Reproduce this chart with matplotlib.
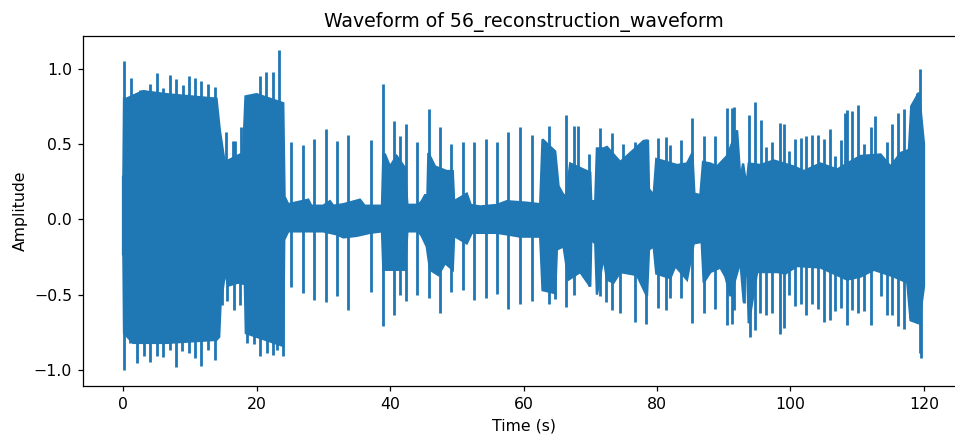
import numpy as np
import matplotlib.pyplot as plt

# the source picture is a default figure scaled up by about 1.13
plt.rcParams.update({
    "font.size": 11.3,
    "axes.titlesize": 13.56,
    "axes.linewidth": 0.9,
    "axes.labelpad": 4.5,
    "axes.titlepad": 6.8,
    "xtick.major.size": 3.95,
    "ytick.major.size": 3.95,
    "xtick.major.width": 0.9,
    "ytick.major.width": 0.9,
    "xtick.major.pad": 3.95,
    "ytick.major.pad": 3.95,
})

# envelope of the dense part of the waveform
upper_t = [0, 0.05, 0.15, 0.5, 3, 6.5, 14, 14.5, 15.25, 15.75, 18, 18.35, 20, 24, 24.2, 24.75,
           27.75, 28.2, 30, 31, 31.5, 33, 35.5, 36.2, 38.8, 39, 39.25, 40, 41, 42.25, 42.6, 44.25,
           44.75, 45.25, 45.6, 45.75, 46.75, 48.5, 49.4, 49.6, 51.5, 52.1, 53.5, 56, 57.5, 60.5,
           62.5, 62.85, 64.75, 65.25, 66, 66.4, 67, 69, 70, 70.15, 70.75, 71, 72, 72.5, 73.5, 74.5,
           78, 78.65, 78.8, 79.5, 79.9, 83, 84.5, 85.3, 85.6, 86.5, 86.9, 88, 89, 90.5, 92, 92.5,
           92.9, 93.4, 93.75, 95.5, 97.5, 100.5, 102, 104.5, 107, 108.5, 110.5, 113.5, 115, 116.5,
           117.75, 118.1, 119.25, 120, 120]
upper_a = [0.28, 0.28, 0.80, 0.80, 0.85, 0.83, 0.80, 0.59, 0.37, 0.39, 0.44, 0.815, 0.83, 0.77, 0.15, 0.10,
           0.13, 0.09, 0.09, 0.12, 0.09, 0.10, 0.13, 0.09, 0.09, 0.43, 0.43, 0.35, 0.42, 0.34, 0.096, 0.096,
           0.12, 0.16, 0.16, 0.44, 0.35, 0.32, 0.32, 0.12, 0.17, 0.095, 0.085, 0.095, 0.12, 0.11,
           0.10, 0.53, 0.45, 0.22, 0.16, 0.16, 0.37, 0.33, 0.31, 0.12, 0.12, 0.47, 0.47, 0.48, 0.43, 0.38,
           0.52, 0.52, 0.20, 0.16, 0.40, 0.36, 0.37, 0.44, 0.17, 0.16, 0.38, 0.37, 0.35, 0.42, 0.59, 0.26,
           0.37, 0.22, 0.37, 0.36, 0.39, 0.35, 0.32, 0.37, 0.33, 0.37, 0.42, 0.43, 0.35, 0.44,
           0.46, 0.75, 0.84, 0.50, 0.42]
lower_t = [0, 0.05, 0.15, 1.5, 6.5, 14, 14.4, 14.6, 15.3, 15.75, 17.25, 18.25, 18.4, 24, 24.15, 24.75,
           30, 32, 33, 35, 37, 38.8, 39, 42.25, 42.6, 44.25, 44.75, 45.5, 46, 47.25, 48.25, 49.4, 49.6,
           51.5, 52.25, 56, 57.5, 59.5, 62.5, 62.85, 64.75, 65, 66, 66.75, 68.5, 70, 70.15, 70.75, 71,
           72, 72.5, 73.5, 74.5, 77, 78.5, 78.8, 79.5, 79.9, 82, 82.75, 84.5, 85.5, 86.7, 87, 88, 89.5,
           90.25, 91, 92.5, 93, 93.4, 93.75, 95, 98, 99.25, 101, 104.5, 108.5, 110.5, 112.5, 115.5,
           117.5, 118, 119.25, 120, 120]
lower_a = [-0.23, -0.23, -0.755, -0.82, -0.82, -0.80, -0.78, -0.57, -0.35, -0.44, -0.42, -0.43, -0.755, -0.84, -0.135, -0.08,
           -0.08, -0.10, -0.12, -0.11, -0.09, -0.08, -0.335, -0.335, -0.08, -0.08, -0.11, -0.18, -0.335, -0.37, -0.29, -0.335, -0.11,
           -0.16, -0.09, -0.09, -0.10, -0.115, -0.115, -0.47, -0.49, -0.20, -0.18, -0.40, -0.35, -0.445, -0.135, -0.16, -0.50,
           -0.25, -0.40, -0.42, -0.35, -0.37, -0.51, -0.20, -0.18, -0.36, -0.39, -0.31, -0.40, -0.16, -0.15, -0.42, -0.35, -0.32,
           -0.38, -0.51, -0.28, -0.55, -0.17, -0.69, -0.35, -0.35, -0.36, -0.31, -0.32, -0.40, -0.38, -0.335, -0.38,
           -0.42, -0.67, -0.69, -0.445, -0.38]

# single peaks that stick out of the envelope
peak_up_t = [0.15, 1.15, 2.5, 3.15, 4.1, 5.1, 6.0, 7.0, 8.0, 9.0, 9.85, 10.85, 11.75, 12.75, 13.85,
             15.5, 16.5, 16.75, 17.6, 20.5, 21.4, 22.4, 23.4, 25.2, 26.9, 28.6, 30.35, 32.05, 33.75,
             37.2, 38.95, 40.65, 41.5, 42.35, 44.1, 45.8, 47.5, 49.2, 50.9, 52.65, 54.35, 56.05, 57.75,
             59.5, 61.2, 63.75, 66.4, 67.6, 68.2, 69.8, 71.5, 73.25, 74.9, 76.65, 78.4, 80.1, 81.4,
             81.9, 83.6, 85.25, 87.0, 88.75, 90.45, 91.3, 91.6, 93.8, 94.7, 95.6, 96.4, 97.25, 98.4,
             99.0, 99.85, 100.7, 101.55, 102.35, 103.25, 104.1, 104.95, 105.85, 106.7, 107.6, 108.1,
             108.4, 109.25, 110.1, 110.95, 112.1, 112.7, 114.5, 115.25, 116.15, 117.0, 117.9, 119.0, 119.4]
peak_up_a = [1.05, 0.94, 0.86, 0.86, 0.90, 0.97, 0.87, 0.96, 0.93, 0.89, 0.95, 0.94, 0.915, 0.90, 0.88,
             0.58, 0.52, 0.52, 0.61, 0.95, 0.98, 0.975, 1.12, 0.51, 0.49, 0.53, 0.60, 0.52, 0.56,
             0.525, 0.90, 0.65, 0.55, 0.63, 0.51, 0.73, 0.615, 0.50, 0.51, 0.515, 0.53, 0.515, 0.58,
             0.61, 0.56, 0.62, 0.69, 0.62, 0.62, 0.43, 0.605, 0.57, 0.50, 0.515, 0.53, 0.54, 0.545,
             0.495, 0.525, 0.67, 0.555, 0.555, 0.74, 0.74, 0.745, 0.69, 0.78, 0.66, 0.48, 0.515, 0.64,
             0.635, 0.45, 0.53, 0.54, 0.55, 0.56, 0.56, 0.53, 0.60, 0.42, 0.525, 0.705,
             0.725, 0.72, 0.76, 0.50, 0.615, 0.685, 0.51, 0.63, 0.705, 0.735, 0.615, 0.84, 0.995]
peak_down_t = [0.15, 1.1, 2.1, 3.1, 4.1, 5.1, 6.0, 7.0, 7.95, 8.9, 9.85, 10.85, 11.75, 12.75, 13.75,
               14.9, 15.6, 16.6, 17.55, 18.6, 19.6, 20.5, 21.5, 22.4, 23.0, 23.9, 25.2, 26.9, 28.6,
               30.35, 32.05, 33.75, 37.2, 38.95, 40.65, 41.5, 42.35, 44.1, 45.8, 47.5, 49.2, 50.9,
               52.65, 54.35, 56.05, 57.75, 59.5, 61.2, 63.75, 64.65, 66.4, 67.6, 69.8, 71.5, 72.4,
               73.25, 74.5, 76.65, 78.4, 80.1, 81.4, 81.9, 83.6, 85.25, 87.0, 88.75, 90.45, 91.3, 91.6,
               93.0, 93.9, 94.7, 95.5, 96.4, 97.25, 98.4, 99.0, 99.85, 100.7, 101.55, 102.4, 103.25,
               104.1, 104.95, 105.85, 106.7, 107.6, 108.4, 109.25, 110.1, 110.95, 112.1, 113.5, 114.4,
               115.25, 116.15, 117.0, 117.9, 119.0, 119.4, 119.55]
peak_down_a = [-1.0, -0.82, -0.955, -0.91, -0.95, -0.905, -0.915, -0.865, -0.98, -0.875, -0.89, -0.92, -0.975, -0.865, -0.935,
               -0.57, -0.545, -0.60, -0.57, -0.82, -0.83, -0.91, -0.89, -0.90, -0.865, -0.91, -0.45, -0.49, -0.535,
               -0.55, -0.51, -0.60, -0.485, -0.705, -0.635, -0.50, -0.54, -0.50, -0.525, -0.62, -0.485, -0.47,
               -0.535, -0.525, -0.495, -0.595, -0.56, -0.545, -0.56, -0.53, -0.585, -0.50, -0.445, -0.51, -0.55,
               -0.60, -0.62, -0.68, -0.695, -0.59, -0.60, -0.525, -0.525, -0.69, -0.62, -0.595, -0.70, -0.695, -0.60,
               -0.555, -0.78, -0.735, -0.62, -0.635, -0.62, -0.76, -0.72, -0.505, -0.575, -0.565, -0.635, -0.565,
               -0.595, -0.68, -0.665, -0.61, -0.59, -0.70, -0.605, -0.62, -0.61, -0.70, -0.51, -0.635,
               -0.635, -0.705, -0.73, -0.655, -0.69, -0.89, -0.92]

fig = plt.figure(figsize=(9.55, 4.36), dpi=100)
# the source image is cropped on the right, so the axes run past the figure edge
ax = fig.add_axes([83 / 955, 50 / 436, 881 / 955, 350 / 436])

body_t = np.concatenate([upper_t, lower_t[::-1]])
body_a = np.concatenate([upper_a, lower_a[::-1]])
ax.fill(body_t, body_a, color="C0", linewidth=1.7)
ax.vlines(peak_up_t, 0, peak_up_a, color="C0", linewidth=2.0)
ax.vlines(peak_down_t, 0, peak_down_a, color="C0", linewidth=2.0)

ax.set_xlim(-6, 126)
ax.set_ylim(-1.106, 1.216)
ax.set_xticks(range(0, 121, 20))
ax.set_yticks([-1.0, -0.5, 0.0, 0.5, 1.0])
ax.set_xlabel("Time (s)")
ax.set_ylabel("Amplitude")
ax.set_title("Waveform of 56_reconstruction_waveform")

fig.savefig("out.png", dpi=100)
